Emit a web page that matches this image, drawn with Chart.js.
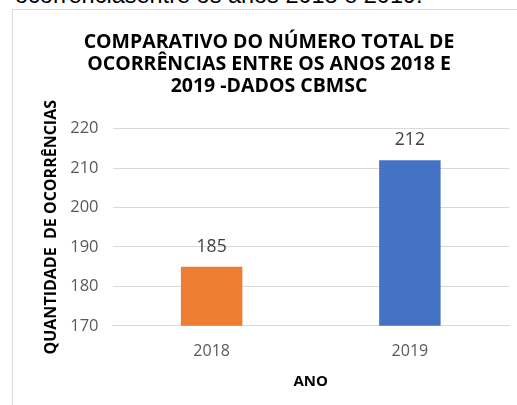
<!DOCTYPE html>
<html>
<head>
<meta charset="utf-8">
<script src="https://cdn.jsdelivr.net/npm/chart.js@4"></script>
<style>
  html, body { margin: 0; padding: 0; width: 517px; height: 405px; overflow: hidden; background: #fff; }
  #caption {
    position: absolute; left: 15px; top: -18px; white-space: nowrap;
    font: 23.5px "Liberation Sans", Arial, sans-serif; color: #000;
  }
  #frame {
    position: absolute; left: 12px; top: 9px; width: 530px; height: 420px;
    border: 1px solid #d9d9d9; box-sizing: border-box;
  }
  #wrap { position: absolute; left: 13px; top: 10px; width: 512px; height: 395px; }
</style>
</head>
<body>
<div id="caption">ocorrênciasentre os anos 2018 e 2019.</div>
<div id="frame"></div>
<div id="wrap"><canvas id="chart"></canvas></div>
<script>
const years = ['2018', '2019'];
const occurrences = [185, 212];
const barColors = ['#ED7D31', '#4472C4'];
const yTicks = [170, 180, 190, 200, 210, 220];
const titleLines = ['COMPARATIVO DO NÚMERO TOTAL DE', 'OCORRÊNCIAS ENTRE OS ANOS 2018 E', '2019 -DADOS CBMSC'];

const colors = {
  text: '#595959',
  label: '#404040',
  title: '#000000',
  grid: '#d9d9d9'
};

const font = '"Open Sans", sans-serif';

// draws the value above each bar
const valueLabels = {
  id: 'valueLabels',
  afterDatasetsDraw(chart) {
    const ctx = chart.ctx;
    const meta = chart.getDatasetMeta(0);
    ctx.save();
    ctx.font = `17.5px ${font}`;
    ctx.fillStyle = colors.label;
    ctx.textAlign = 'center';
    ctx.textBaseline = 'middle';
    meta.data.forEach((bar, i) => {
      ctx.fillText(occurrences[i], bar.x, bar.y - 20);
    });
    ctx.restore();
  }
};

new Chart(document.getElementById('chart'), {
  type: 'bar',
  data: {
    labels: years,
    datasets: [{
      data: occurrences,
      backgroundColor: barColors,
      barPercentage: 0.62,
      categoryPercentage: 0.5
    }]
  },
  options: {
    responsive: true,
    maintainAspectRatio: false,
    animation: false,
    // equal left/right padding keeps the title centred on the frame
    layout: { padding: { top: 21, left: 16, right: 16, bottom: 14 } },
    plugins: {
      legend: { display: false },
      tooltip: { enabled: false },
      title: {
        display: true,
        text: titleLines,
        color: colors.title,
        font: { family: font, size: 19.5, weight: 'bold', lineHeight: 1.14 },
        padding: { top: 0, bottom: 31 }
      }
    },
    scales: {
      x: {
        grid: { display: false, drawTicks: false },
        border: { color: colors.grid },
        ticks: { color: colors.text, font: { family: font, size: 16 }, padding: 16 },
        title: {
          display: true,
          text: 'ANO',
          color: colors.title,
          font: { family: font, size: 15, weight: 'bold' },
          padding: { top: -4, bottom: 0 }
        }
      },
      y: {
        min: yTicks[0],
        max: yTicks[yTicks.length - 1],
        afterBuildTicks: axis => { axis.ticks = yTicks.map(v => ({ value: v })); },
        grid: { color: colors.grid, drawTicks: false },
        border: { display: false },
        ticks: { color: colors.text, font: { family: font, size: 16.5 }, padding: 14 },
        title: {
          display: true,
          text: 'QUANTIDADE  DE OCORRÊNCIAS',
          color: colors.title,
          font: { family: font, size: 16, weight: 'bold' },
          padding: { top: 13, bottom: -5 }
        }
      }
    }
  },
  plugins: [valueLabels]
});
</script>
</body>
</html>
